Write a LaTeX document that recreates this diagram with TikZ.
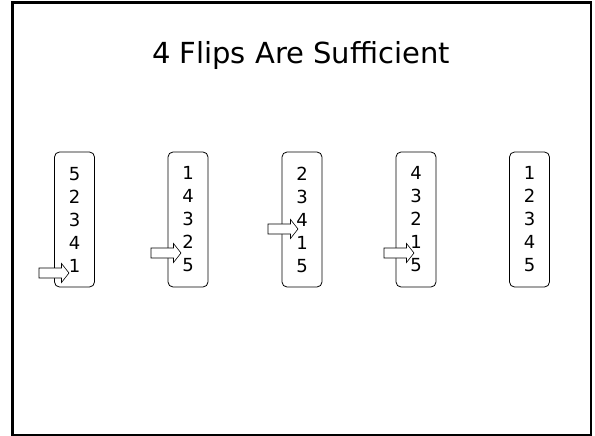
\documentclass[tikz,border=0pt]{standalone}
\usepackage{fontspec}
\setmainfont{DejaVu Sans}
\begin{document}
\begin{tikzpicture}[x=1pt,y=-1pt,
  stackbox/.style={draw, line width=0.8pt, rounded corners=5pt, minimum width=40pt,
    minimum height=135pt, inner sep=0pt, align=center, font=\fontsize{18}{23}\selectfont},
  frame/.style={draw, line width=2.5pt},
  blockarr/.pic={\draw[line width=0.6pt, fill=white] (0,0) -- (-7.5,-9.5) -- (-7.5,-5)
     -- (-30,-5) -- (-30,5) -- (-7.5,5) -- (-7.5,9.5) -- cycle;}
]
\useasboundingbox (0,0) rectangle (595,436);
\draw[frame] (12.3,2.5) rectangle (591,435);

\node[font=\fontsize{29}{34}\selectfont] (title) at (301,56) {4 Flips Are Sufficient};

\node[stackbox] (b1) at (74.5,219.5) {5\\2\\3\\4\\1};
\node[stackbox] (b2) at (188,219.5) {1\\4\\3\\2\\5};
\node[stackbox] (b3) at (302,219.5) {2\\3\\4\\1\\5};
\node[stackbox] (b4) at (416,219.5) {4\\3\\2\\1\\5};
\node[stackbox] (b5) at (529.5,219.5) {1\\2\\3\\4\\5};

\coordinate (t1) at (69,273);
\coordinate (t2) at (181,253);
\coordinate (t3) at (298,229);
\coordinate (t4) at (414,253);
\pic at (t1) {blockarr};
\pic at (t2) {blockarr};
\pic at (t3) {blockarr};
\pic at (t4) {blockarr};
\end{tikzpicture}
\end{document}
